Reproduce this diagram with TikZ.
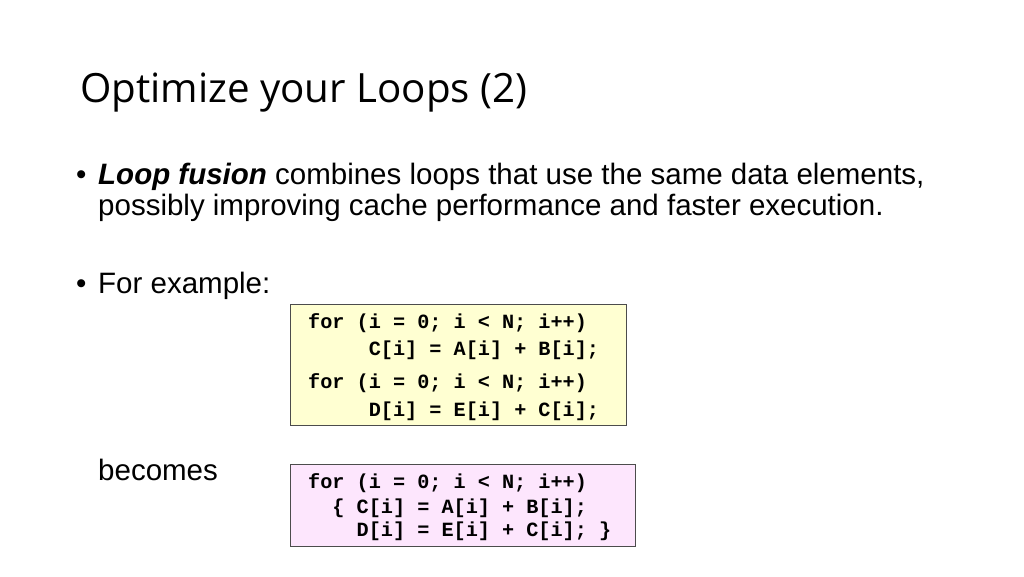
\documentclass[tikz,border=0pt]{standalone}
\usepackage{fontspec}
\setmainfont{Liberation Sans}
\newfontfamily\titlefont{Open Sans}
\setmonofont{Liberation Mono}
\usetikzlibrary{positioning}
\definecolor{codeyellow}{RGB}{255,255,210}
\definecolor{codepink}{RGB}{253,230,253}
\tikzset{
  txt/.style={anchor=base west, inner sep=0pt, font=\fontsize{29.5}{34}\selectfont},
  code/.style={anchor=base west, inner sep=0pt, font=\ttfamily\bfseries\fontsize{20.2}{24}\selectfont},
  codebox/.style={draw=black!70, line width=0.8pt}
}
\begin{document}
\begin{tikzpicture}[x=1pt,y=-1pt]
\useasboundingbox (0,0) rectangle (1024,576);

% Title
\node (title) [anchor=base west, inner sep=0pt, font=\titlefont\fontsize{40.3}{46}\selectfont] at (80,102) {Optimize your Loops (2)};

% Bullets
\node (b1) [txt] at (76,184) {•};
\node (l1) [txt] at (98,184) {\textbf{\textit{Loop fusion}} combines loops that use the same data elements,};
\node (l2) [txt] at (98,215) {possibly improving cache performance and faster execution.};
\node (b2) [txt] at (76,293) {•};
\node (ex) [txt] at (98,293) {For example:};
\node (bec) [txt] at (98,480) {becomes};

% Code boxes
\filldraw [codebox, fill=codeyellow] (290,304) rectangle (626,425);
\node (c1) [code] at (308,328) {for (i = 0; i < N; i++)};
\node (c2) [code] at (308,355) {\ \ \ \ \ C[i] = A[i] + B[i];};
\node (c3) [code] at (308,388) {for (i = 0; i < N; i++)};
\node (c4) [code] at (308,416) {\ \ \ \ \ D[i] = E[i] + C[i];};

\filldraw [codebox, fill=codepink] (290,464) rectangle (635,546);
\node (f1) [code] at (308,488) {for (i = 0; i < N; i++)};
\node (f2) [code] at (308,513) {\ \ \{ C[i] = A[i] + B[i];};
\node (f3) [code] at (308,536) {\ \ \ \ D[i] = E[i] + C[i]; \}};
\end{tikzpicture}
\end{document}
